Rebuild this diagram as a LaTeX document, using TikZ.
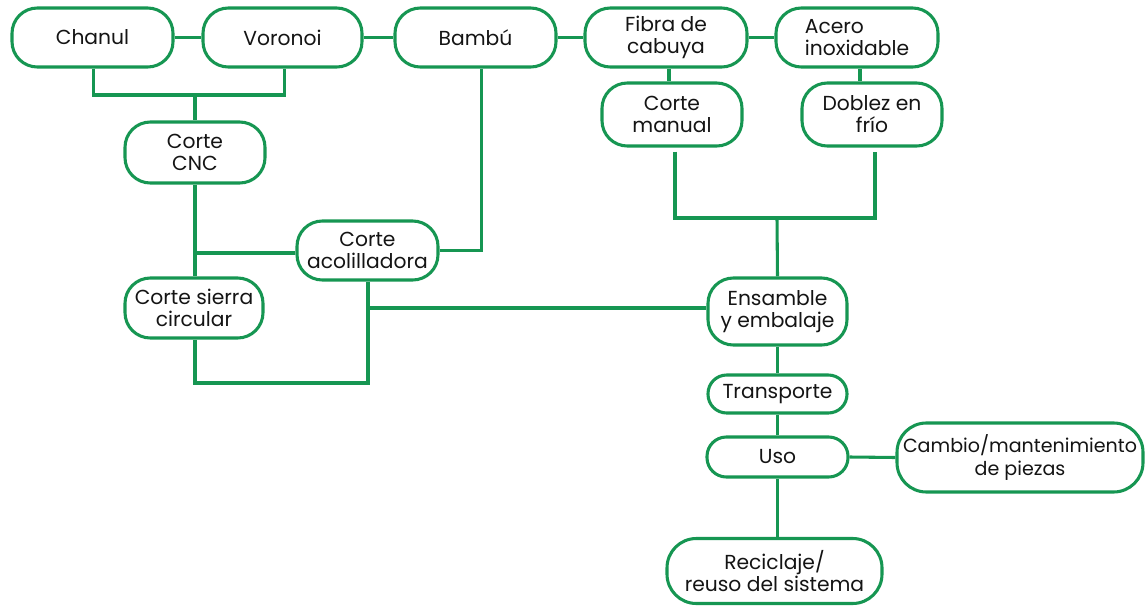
\documentclass[tikz,border=0pt]{standalone}
\usepackage{fontspec}
\setmainfont{Poppins}
\definecolor{lineg}{RGB}{22,150,82}
\definecolor{txt}{RGB}{20,20,20}
\tikzset{
  box/.style={draw=lineg, line width=2.3pt, rounded corners=19pt, fill=white,
    text=txt, align=center, inner sep=0pt,
    font=\fontsize{15.2}{16.6}\selectfont},
  conn/.style={draw=lineg, line width=2.3pt},
}
\begin{document}
\begin{tikzpicture}[x=0.75pt,y=-0.75pt]
\useasboundingbox (0,0) rectangle (1147,607);
\coordinate (j1) at (195,95);
\coordinate (j2) at (777,218);
\coordinate (j3) at (368,383);
\coordinate (j4) at (368,308);
% nodes
\node[box, minimum width=120.75pt, minimum height=44.25pt] (chanul) at (92.5,37.5) {Chanul};
\node[box, minimum width=119.25pt, minimum height=44.25pt] (voronoi) at (282.5,37.5) {Voronoi};
\node[box, minimum width=120.75pt, minimum height=44.25pt] (bambu) at (475.5,37.5) {Bambú};
\node[box, minimum width=121.5pt, minimum height=44.25pt] (fibra) at (666,37.5) {Fibra de\\cabuya};
\node[box, minimum width=121.5pt, minimum height=44.25pt, align=left] (acero) at (857,37.5) {Acero\\inoxidable};
\node[box, minimum width=105pt, minimum height=47.25pt] (manual) at (672,114.5) {Corte\\manual};
\node[box, minimum width=105pt, minimum height=47.25pt] (doblez) at (872,114.5) {Doblez en\\frío};
\node[box, minimum width=105pt, minimum height=45.75pt] (cnc) at (195,152.5) {Corte\\CNC};
\node[box, minimum width=105.75pt, minimum height=44.25pt] (acol) at (367.5,250.5) {Corte\\acolilladora};
\node[box, minimum width=103.5pt, minimum height=45pt] (sierra) at (194,308) {Corte sierra\\circular};
\node[box, minimum width=104.25pt, minimum height=50.25pt] (ensamble) at (777.5,311.5) {Ensamble\\y embalaje};
\node[box, minimum width=104.25pt, minimum height=28.5pt, rounded corners=14pt] (transporte) at (777.5,394) {Transporte};
\node[box, minimum width=105.75pt, minimum height=30pt, rounded corners=14.5pt] (uso) at (777.5,457) {Uso};
\node[box, minimum width=184.5pt, minimum height=51.75pt, rounded corners=22pt, font=\fontsize{14.3}{16.6}\selectfont] (cambio) at (1020,457.5) {Cambio/mantenimiento\\de piezas};
\node[box, minimum width=161.25pt, minimum height=48.75pt, rounded corners=22pt] (reciclaje) at (774.5,571) {Reciclaje/\\reuso del sistema};
% connectors
\path[conn] (chanul.east) -- (voronoi.west);
\path[conn] (voronoi.east) -- (bambu.west);
\path[conn] (bambu.east) -- (fibra.west);
\path[conn] (fibra.east) -- (acero.west);
\path[conn] ([xshift=0.4pt]chanul.south) |- (j1) -| ([xshift=1.5pt]voronoi.south);
\path[conn] (j1) -- (cnc.north);
\path[conn] (cnc.south) -- (cnc.south |- sierra.north);
\path[conn] (cnc.south |- 0,253) -- (acol.west |- 0,253);
\path[conn] ([xshift=4.5pt]bambu.south) |- (acol.east);
\path[conn] ([xshift=2.25pt]fibra.south) -- ([xshift=2.25pt]fibra.south |- manual.north);
\path[conn] ([xshift=2.25pt]acero.south) -- ([xshift=2.25pt]acero.south |- doblez.north);
\path[conn] ([xshift=2.25pt,yshift=-3pt]manual.south) |- (j2) -| ([xshift=2.25pt,yshift=-3pt]doblez.south);
\path[conn] (j2) -- (ensamble.north);
\path[conn] (acol.south -| j3) -- (j3) -| (sierra.south -| cnc.south);
\path[conn] (j4) -- (j4 -| ensamble.west);
\path[conn] (ensamble.south) -- (transporte.north);
\path[conn] (transporte.south) -- (uso.north);
\path[conn] (uso.east) -- (cambio.west);
\path[conn] (uso.south) -- (uso.south |- reciclaje.north);
\end{tikzpicture}
\end{document}
